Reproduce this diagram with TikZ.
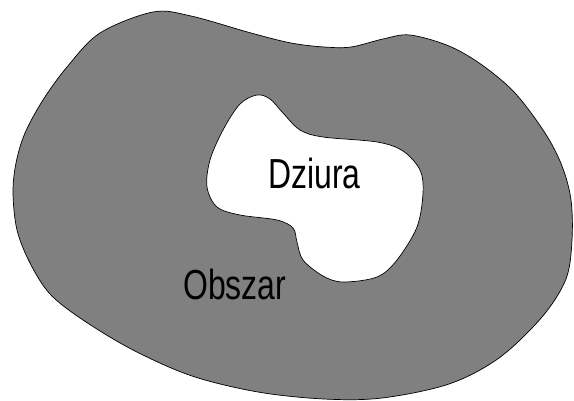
\documentclass[tikz,border=0pt]{standalone}
\usepackage{fontspec}
\newfontfamily\narrowsans[FakeStretch=0.76]{Liberation Sans}
\begin{document}
\begin{tikzpicture}[x=1pt,y=-1pt,
  region/.style={draw=black,line width=0.7pt,fill={rgb,255:red,128;green,128;blue,128}},
  holeshape/.style={draw=black,line width=0.7pt,fill=white},
  label/.style={font=\narrowsans\fontsize{42}{42}\selectfont,inner sep=0pt,anchor=base west}]
\useasboundingbox[fill=white] (0,0) rectangle (574,401);
\draw[region] plot[smooth cycle,tension=0.55] coordinates {
 (153,12) (191,16) (251,33) (291,43) (324,47) (351,47) (383,39) (410,35)
 (449,46) (482,65) (515,93) (545,133) (562,166) (571,200) (572,240)
 (566,279) (542,317) (499,358) (449,384) (382,398) (324,399) (258,392)
 (192,376) (133,350) (83,320) (50,294) (30,263) (17,230) (13,193)
 (16,163) (25,133) (43,100) (67,67) (100,33)};
\draw[holeshape] plot[smooth cycle,tension=0.55] coordinates {
 (257,95) (240,104) (223,130) (210,160) (207,187) (217,207) (240,215)
 (277,220) (293,228) (297,242) (303,260) (323,276) (343,282) (377,277)
 (397,260) (417,227) (423,193) (420,170) (403,151) (377,142) (323,137)
 (300,130) (283,113) (270,99)};
\node[label] (dziura) at (268,189) {Dziura};
\node[label] (obszar) at (183,300) {Obszar};
\end{tikzpicture}
\end{document}
